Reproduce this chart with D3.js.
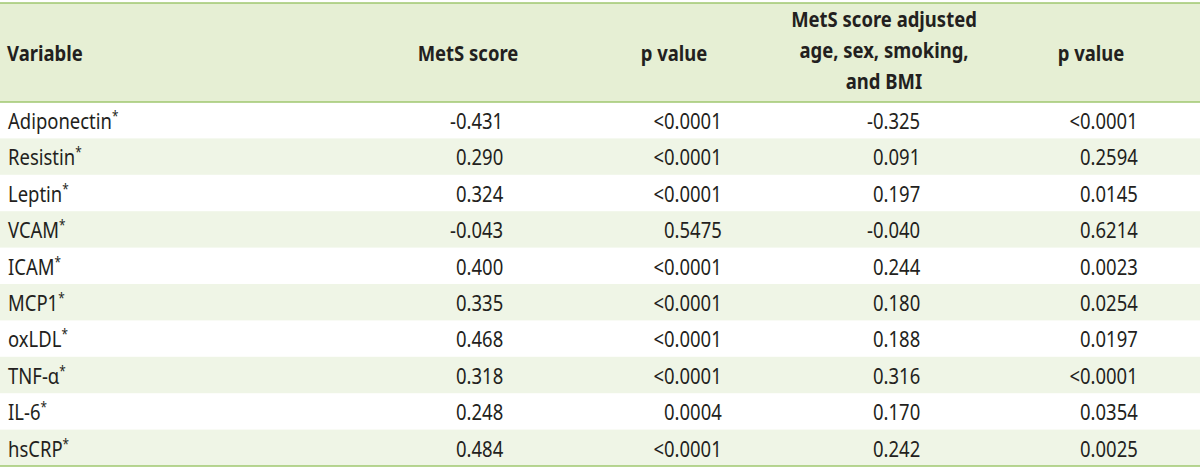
<!DOCTYPE html>
<html>
<head>
<meta charset="utf-8">
<script src="https://cdn.jsdelivr.net/npm/d3@7"></script>
<style>
  html, body { margin: 0; padding: 0; background: #ffffff; }
  svg { display: block; }
</style>
</head>
<body>
<script>
// ---- data ----
const variables = ["Adiponectin", "Resistin", "Leptin", "VCAM", "ICAM", "MCP1", "oxLDL", "TNF-\u03b1", "IL-6", "hsCRP"];
const metsScore = ["-0.431", "0.290", "0.324", "-0.043", "0.400", "0.335", "0.468", "0.318", "0.248", "0.484"];
const metsP = ["<0.0001", "<0.0001", "<0.0001", "0.5475", "<0.0001", "<0.0001", "<0.0001", "<0.0001", "0.0004", "<0.0001"];
const adjScore = ["-0.325", "0.091", "0.197", "-0.040", "0.244", "0.180", "0.188", "0.316", "0.170", "0.242"];
const adjP = ["<0.0001", "0.2594", "0.0145", "0.6214", "0.0023", "0.0254", "0.0197", "<0.0001", "0.0354", "0.0025"];
const headers = [
  ["Variable"],
  ["MetS score"],
  ["p value"],
  ["MetS score adjusted", "age, sex, smoking,", "and BMI"],
  ["p value"]
];
const footMark = "*";

// ---- layout ----
const W = 1200, H = 470;
const SX = 0.84;               // horizontal squeeze of the typeface
const FS = 22;
const textColor = "#231f20";
const headBg = "#e6efd4";
const stripeBg = "#eff5e6";
const ruleColor = "#9fc76f";
const headTop = 3, headBottom = 102, tableBottom = 466;

const svg = d3.select("body").append("svg")
  .attr("width", W).attr("height", H)
  .style("font-family", "'Noto Sans', 'Open Sans', sans-serif");

const y = d3.scaleBand().domain(variables).range([headBottom, tableBottom]).paddingInner(0).paddingOuter(0);

// header background
svg.append("rect").attr("x", 0).attr("y", headTop).attr("width", W).attr("height", headBottom - headTop).attr("fill", headBg);

// stripes
svg.selectAll("rect.stripe").data(variables.filter((d, i) => i % 2 === 1)).enter()
  .append("rect").attr("class", "stripe")
  .attr("x", 0).attr("y", d => y(d)).attr("width", W).attr("height", y.bandwidth())
  .attr("fill", stripeBg);

// rules
[headTop, headBottom, tableBottom].forEach(yy => {
  svg.append("line").attr("x1", 0).attr("x2", W).attr("y1", yy).attr("y2", yy)
    .attr("stroke", ruleColor).attr("stroke-width", 1.6);
});

function addText(x, yy, str, opts = {}) {
  const t = svg.append("text")
    .attr("transform", `translate(${x},${yy}) scale(${SX},1)`)
    .attr("text-anchor", opts.anchor || "start")
    .attr("font-size", opts.size || FS)
    .attr("font-weight", opts.weight || 400)
    .attr("fill", textColor);
  t.append("tspan").text(str);
  return t;
}
function measure(str, weight) {
  const t = svg.append("text").attr("font-size", FS).attr("font-weight", weight || 400).text(str);
  const w = t.node().getComputedTextLength() * SX;
  t.remove();
  return w;
}

// header
const headX = [7, 468, 674, 884, 1091];
const headAnchor = ["start", "middle", "middle", "middle", "middle"];
const lineGap = 31;
const headMid = 61;
headers.forEach((lines, c) => {
  const n = lines.length;
  lines.forEach((ln, k) => {
    const yy = headMid + (k - (n - 1) / 2) * lineGap - (n > 1 ? 3 : 0);
    addText(headX[c], yy, ln, { anchor: headAnchor[c], weight: 700 });
  });
});

// body
const baseOff = 27;
variables.forEach((v, i) => {
  const yy = y(v) + baseOff;
  const t = addText(8, yy, v);
  t.append("tspan").attr("font-size", 14).attr("dy", -8).text(footMark);
});

// numeric columns: digits aligned at a column x, leading sign / "<" hangs left
const numCols = [
  { data: metsScore, x: 456 },
  { data: metsP, x: 664 },
  { data: adjScore, x: 873 },
  { data: adjP, x: 1080 }
];
numCols.forEach(col => {
  col.data.forEach((val, i) => {
    const yy = y(variables[i]) + baseOff;
    let x = col.x;
    const m = val.match(/^[-<]/);
    if (m) x -= measure(m[0]);
    addText(x, yy, val);
  });
});
</script>
</body>
</html>
